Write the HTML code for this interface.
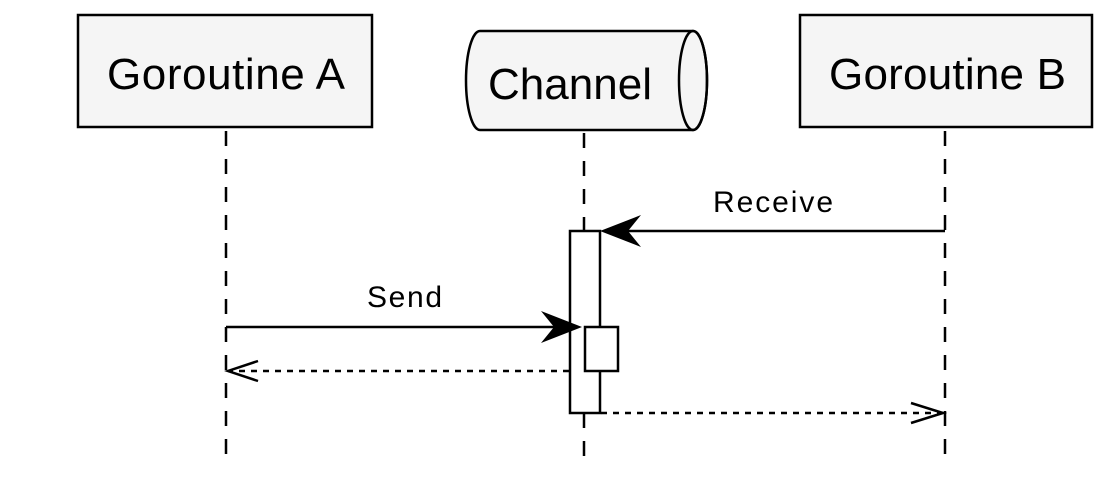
<!DOCTYPE html>
<html><head><style>body{margin:0;background:#fff}</style></head><body>
<svg width="1109" height="489" viewBox="0 0 1109 489" xmlns="http://www.w3.org/2000/svg" font-family="Liberation Sans, sans-serif">
<rect width="1109" height="489" fill="#fff"/>
<g stroke="#000" stroke-width="2.5" stroke-dasharray="15,13" fill="none">
<line x1="226" y1="131" x2="226" y2="462"/>
<line x1="584" y1="133" x2="584" y2="462"/>
<line x1="945" y1="131" x2="945" y2="462"/>
</g>
<rect x="78" y="15" width="294" height="112" fill="#f5f5f5" stroke="#000" stroke-width="2.5"/>
<rect x="800" y="15" width="292" height="112" fill="#f5f5f5" stroke="#000" stroke-width="2.5"/>
<path d="M480,31 H693 A14,49.5 0 0 1 693,130 H480 A14,49.5 0 0 1 480,31 Z" fill="#f5f5f5" stroke="#000" stroke-width="2.5"/>
<ellipse cx="693" cy="80.5" rx="14" ry="49.5" fill="none" stroke="#000" stroke-width="2.5"/>
<text x="107" y="89" font-size="44" textLength="238" lengthAdjust="spacing">Goroutine A</text>
<text x="829" y="89" font-size="44" textLength="237" lengthAdjust="spacing">Goroutine B</text>
<text x="488" y="99" font-size="44" textLength="164" lengthAdjust="spacing">Channel</text>
<rect x="570" y="231" width="30" height="182" fill="#fff" stroke="#000" stroke-width="2.5"/>
<rect x="585" y="327" width="33" height="44" fill="#fff" stroke="#000" stroke-width="2.5"/>
<line x1="945" y1="231" x2="615" y2="231" stroke="#000" stroke-width="2.5"/>
<path d="M600,231 L641,215 L628,231 L641,247 Z" fill="#000"/>
<line x1="226" y1="327" x2="565" y2="327" stroke="#000" stroke-width="2.5"/>
<path d="M582,327 L541,311 L554,327 L541,343 Z" fill="#000"/>
<line x1="569" y1="371" x2="228" y2="371" stroke="#000" stroke-width="2.5" stroke-dasharray="6,6"/>
<path d="M258,361 L228,371 L258,381" fill="none" stroke="#000" stroke-width="2.5"/>
<line x1="601" y1="413" x2="943" y2="413" stroke="#000" stroke-width="2.5" stroke-dasharray="6,6"/>
<path d="M911,403 L943,413 L911,423" fill="none" stroke="#000" stroke-width="2.5"/>
<text x="367" y="307" font-size="30" textLength="75" lengthAdjust="spacing">Send</text>
<text x="713" y="212" font-size="30" textLength="120" lengthAdjust="spacing">Receive</text>
</svg>
</body></html>
